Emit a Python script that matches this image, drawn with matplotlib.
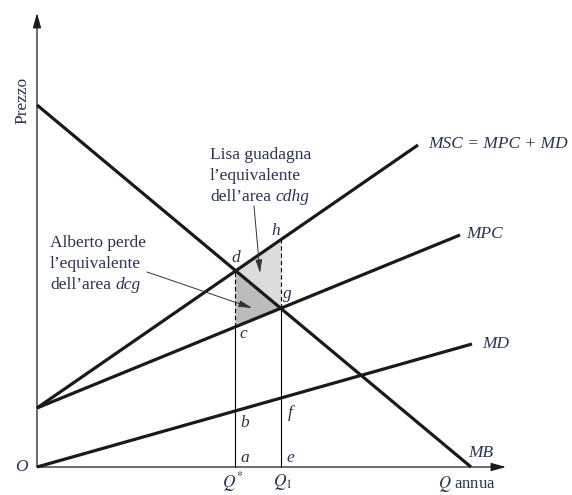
import numpy as np
import matplotlib
matplotlib.use("Agg")
import matplotlib.pyplot as plt

# ---- data (quantity units, price units) ----
mb_q = [0.0, 43.4]
mb_p = [36.2, 0.0]
msc_q = [0.0, 38.1]
msc_p = [5.9, 32.2]
mpc_q = [0.0, 42.3]
mpc_p = [5.9, 23.2]
md_q = [0.0, 43.5]
md_p = [0.0, 12.3]
q_star = 19.85
q_one = 24.4

TXT = '#2a3350'
SERIF = ['Liberation Serif', 'DejaVu Serif']

def line_val(qs, ps, q):
    return np.interp(q, qs, ps)

fig = plt.figure(figsize=(5.72, 4.95), dpi=100)
ax = fig.add_axes([0, 0, 1, 1])
ax.set_xlim(-3.7, 53.5)
ax.set_ylim(-2.8, 46.7)
ax.axis('off')

# points
d_p = line_val(msc_q, msc_p, q_star)
c_p = line_val(mpc_q, mpc_p, q_star)
g_p = line_val(mpc_q, mpc_p, q_one)
h_p = line_val(msc_q, msc_p, q_one)

# shaded areas
ax.fill([q_star, q_one, q_one], [d_p, h_p, g_p], color='#dcdcdc', zorder=1, lw=0)
ax.fill([q_star, q_star, q_one], [d_p, c_p, g_p], color='#bcbcbc', zorder=1, lw=0)

# vertical lines
ax.plot([q_star, q_star], [0, c_p], color='black', lw=0.8, zorder=2)
ax.plot([q_star, q_star], [c_p, d_p], color='black', lw=0.8, ls=(0, (4, 2.5)), zorder=2)
ax.plot([q_one, q_one], [0, g_p], color='black', lw=0.8, zorder=2)
ax.plot([q_one, q_one], [g_p, h_p], color='black', lw=0.8, ls=(0, (4, 2.5)), zorder=2)

# curves
for qs, ps in [(mb_q, mb_p), (msc_q, msc_p), (mpc_q, mpc_p), (md_q, md_p)]:
    ax.plot(qs, ps, color='#1a1a1a', lw=2.3, solid_capstyle='butt', zorder=3)

# axes with arrows
ax.annotate('', xy=(0, 45.4), xytext=(0, 0),
            arrowprops=dict(arrowstyle='-|>,head_length=0.9,head_width=0.25', color='#1a1a1a', lw=0.9, shrinkA=0, shrinkB=0))
ax.annotate('', xy=(46.9, 0), xytext=(0, 0),
            arrowprops=dict(arrowstyle='-|>,head_length=0.9,head_width=0.25', color='#1a1a1a', lw=0.9, shrinkA=0, shrinkB=0))

fs = 12.5
kw = dict(fontsize=fs, color=TXT, family=SERIF)
# axis labels
ax.text(-1.5, 36.7, 'Prezzo', rotation=90, ha='center', va='center', **kw)
ax.text(-0.9, 0.0, 'O', ha='right', va='center', style='italic', **kw)
ax.text(19.6, -1.5, r'$Q^{*}$', ha='center', va='center', fontsize=fs, color=TXT, math_fontfamily='stix')
ax.text(24.6, -1.5, r'$Q_1$', ha='center', va='center', fontsize=fs, color=TXT, math_fontfamily='stix')
ax.text(43.0, -1.75, r'$Q$ annua', ha='center', va='center', math_fontfamily='stix',
        fontsize=12, color=TXT, family=SERIF)

# curve labels
ax.text(43.1, 1.4, 'MB', ha='left', va='center', style='italic', **kw)
ax.text(44.5, 12.3, 'MD', ha='left', va='center', style='italic', **kw)
ax.text(42.9, 23.3, 'MPC', ha='left', va='center', style='italic', **kw)
ax.text(39.1, 32.3, 'MSC = MPC + MD', ha='left', va='center', style='italic', **kw)

# point letters
pts = [('d', 19.9, 20.9), ('h', 23.9, 23.6), ('g', 25.0, 17.3), ('c', 20.6, 13.3),
       ('b', 20.8, 4.4), ('f', 25.3, 5.4), ('a', 20.8, 0.9), ('e', 25.3, 0.9)]
for s, x, y in pts:
    ax.text(x, y, s, ha='center', va='center', style='italic', **kw)

# annotations
ls = 2.1
def block(x, y, l1, tail):
    ax.text(x, y, l1, ha='left', va='center', **kw)
    ax.text(x, y - ls, "l\u2019equivalente", ha='left', va='center', **kw)
    t = ax.text(x, y - 2 * ls, "dell\u2019area", ha='left', va='center', **kw)
    fig.canvas.draw()
    bb = t.get_window_extent()
    xd = ax.transData.inverted().transform((bb.x1 + 4, 0))[0]
    ax.text(xd, y - 2 * ls, tail, ha='left', va='center', style='italic', **kw)

block(17.3, 31.2, 'Lisa guadagna', 'cdhg')
block(1.3, 22.4, 'Alberto perde', 'dcg')

ax.annotate('', xy=(22.3, 19.4), xytext=(21.7, 26.1),
            arrowprops=dict(arrowstyle='-|>,head_length=0.8,head_width=0.2', color='#333333', lw=0.7, shrinkA=0, shrinkB=0))
ax.annotate('', xy=(21.5, 15.9), xytext=(11.0, 19.5),
            arrowprops=dict(arrowstyle='-|>,head_length=0.8,head_width=0.2', color='#333333', lw=0.7, shrinkA=0, shrinkB=0))

fig.savefig('out.png', dpi=100)
